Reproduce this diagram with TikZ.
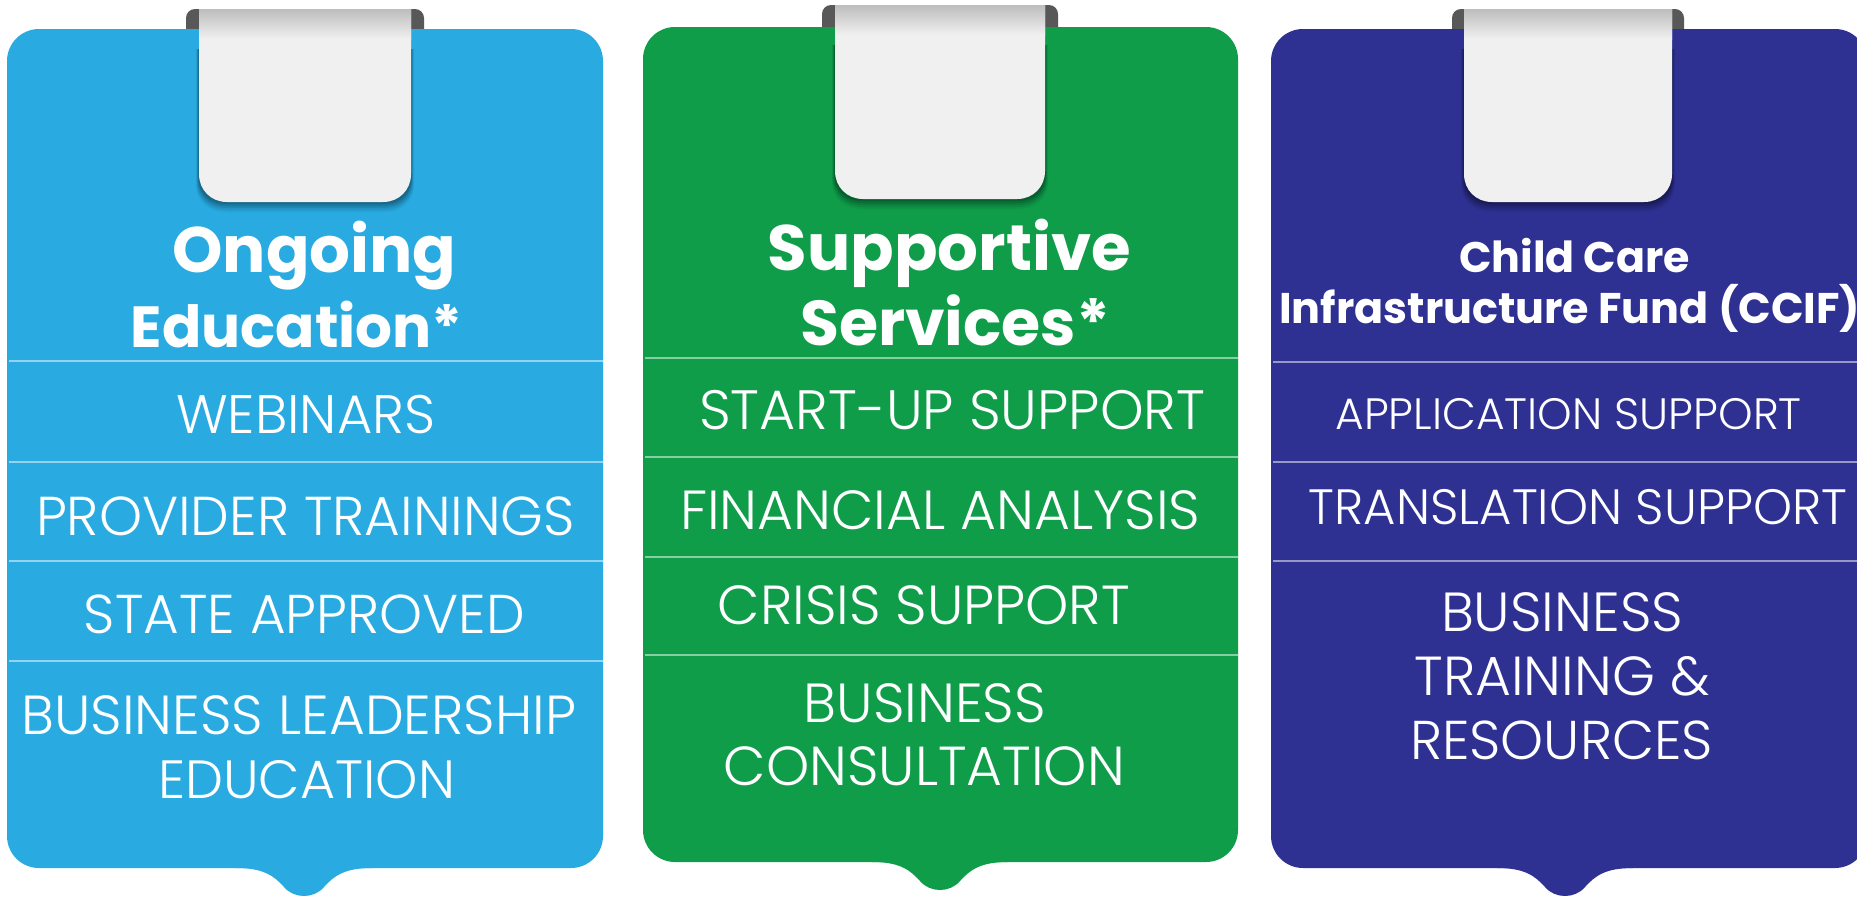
\documentclass[tikz,border=0pt]{standalone}
\usepackage{fontspec}
\setmainfont{Poppins}
\newfontfamily\plight{Poppins Light}
\usepackage{graphicx}
\definecolor{cblue}{HTML}{29AAE1}
\definecolor{cgreen}{HTML}{0F9D4A}
\definecolor{cnavy}{HTML}{2E3192}
\definecolor{tabfill}{HTML}{F0F0F0}
\definecolor{tabtop}{HTML}{BDBDBD}
\definecolor{rollgray}{HTML}{585858}
\tikzset{
  txt/.style={anchor=base, inner sep=0pt, outer sep=0pt, text=white},
  divider/.style={draw=white, draw opacity=0.5, line width=1.6pt},
}
% panel: #1 colour, #2 x1, #3 x2, #4 top, #5 bottom, #6 notch centre
\newcommand\cardpanel[6]{%
  \fill[#1, rounded corners=32pt] (#2,#4) rectangle (#3,#5);
  \fill[#1] (#6-68,#5-2) -- (#6-68,#5) .. controls (#6-40,#5) and (#6-30,#5+8) .. (#6-20,#5+19)
     .. controls (#6-10,#5+31) and (#6+10,#5+31) .. (#6+20,#5+19)
     .. controls (#6+30,#5+8) and (#6+40,#5) .. (#6+68,#5) -- (#6+68,#5-2) -- cycle;
}
% tab: #1 x1, #2 x2 (light part), #3 top, #4 bottom
\newcommand\cardtab[4]{%
  \foreach \s/\o in {10/0.05,8/0.07,6/0.09,4/0.11,2/0.13}{
    \fill[black, opacity=\o] (#1-\s*0.3,#3+40) -- (#1-\s*0.3,#4-28+\s)
      .. controls (#1-\s*0.3,#4-10+\s) and (#1+10,#4+\s) .. (#1+28,#4+\s) -- (#2-28,#4+\s)
      .. controls (#2-10,#4+\s) and (#2+\s*0.3,#4-10+\s) .. (#2+\s*0.3,#4-28+\s) -- (#2+\s*0.3,#3+40) -- cycle;
  }
  \fill[tabfill] (#1,#3) -- (#1,#4-28) .. controls (#1,#4-12) and (#1+12,#4) .. (#1+28,#4)
     -- (#2-28,#4) .. controls (#2-12,#4) and (#2,#4-12) .. (#2,#4-28) -- (#2,#3) -- cycle;
  \shade[top color=tabtop, bottom color=tabfill] (#1,#3) rectangle (#2,#3+30);
}
\begin{document}
\begin{tikzpicture}[x=1pt,y=-1pt]
\useasboundingbox (0,0) rectangle (1857,897);
\clip (0,0) rectangle (1857,897);
\fill[white] (0,0) rectangle (1857,897);

% rolls behind panels
\fill[rollgray, rounded corners=9pt] (186,9) rectangle (424,45);
\fill[rollgray, rounded corners=9pt] (822,5) rectangle (1058,45);
\fill[rollgray, rounded corners=9pt] (1452,9) rectangle (1684,45);

% panels
\cardpanel{cblue}{7}{603}{29}{868}{304}
\cardpanel{cgreen}{643}{1238}{27}{862}{940}
\cardpanel{cnavy}{1271}{1867}{29}{868}{1565}

% tabs
\cardtab{199}{411}{9}{202}
\cardtab{835}{1045}{5}{199}
\cardtab{1464}{1672}{9}{202}

% dividers
\draw[divider] (9,361) -- (603,361);
\draw[divider] (9,462) -- (603,462);
\draw[divider] (9,561) -- (603,561);
\draw[divider] (9,661) -- (603,661);
\draw[divider] (645,358) -- (1238,358);
\draw[divider] (645,457) -- (1238,457);
\draw[divider] (645,557) -- (1238,557);
\draw[divider] (645,655) -- (1238,655);
\draw[divider] (1273,362) -- (1857,362);
\draw[divider] (1273,462) -- (1857,462);
\draw[divider] (1273,561) -- (1857,561);

% panel 1 texts
\node[txt] (h1a) at (314.4,272.4) {\resizebox{284pt}{!}{\bfseries Ongoing}};
\node[txt] (h1b) at (296.7,347) {\resizebox{332pt}{!}{\bfseries Education*}};
\node[txt] (a1) at (305.6,433.5) {\resizebox{259pt}{!}{\plight WEBINARS}};
\node[txt] (a2) at (305.6,535.3) {\resizebox{539pt}{!}{\plight PROVIDER TRAININGS}};
\node[txt] (a3) at (304.4,633.6) {\resizebox{441pt}{!}{\plight STATE APPROVED}};
\node[txt] (a4) at (299,734.3) {\resizebox{555pt}{!}{\plight BUSINESS LEADERSHIP}};
\node[txt] (a5) at (306.7,798.2) {\resizebox{297pt}{!}{\plight EDUCATION}};

% panel 2 texts
\node[txt] (h2a) at (949.2,270) {\resizebox{363pt}{!}{\bfseries Supportive}};
\node[txt] (h2b) at (955.1,345.8) {\resizebox{310pt}{!}{\bfseries Services*}};
\node[txt] (b1) at (952.2,429.9) {\resizebox{506pt}{!}{\plight START-UP SUPPORT}};
\node[txt] (b2) at (940.3,529.4) {\resizebox{520pt}{!}{\plight FINANCIAL ANALYSIS}};
\node[txt] (b3) at (923.8,624.1) {\resizebox{412pt}{!}{\plight CRISIS SUPPORT}};
\node[txt] (b4) at (924.9,722.4) {\resizebox{242pt}{!}{\plight BUSINESS}};
\node[txt] (b5) at (924.4,785.2) {\resizebox{401pt}{!}{\plight CONSULTATION}};

% panel 3 texts
\node[txt] (h3a) at (1574.5,272.4) {\resizebox{231pt}{!}{\bfseries Child Care}};
\node[txt] (h3b) at (1569.8,323.3) {\resizebox{581pt}{!}{\bfseries Infrastructure Fund (CCIF)}};
\node[txt] (c1) at (1568.6,429.9) {\resizebox{466pt}{!}{\plight APPLICATION SUPPORT}};
\node[txt] (c2) at (1578.1,524.6) {\resizebox{538pt}{!}{\plight TRANSLATION SUPPORT}};
\node[txt] (c3) at (1562.1,631.2) {\resizebox{242pt}{!}{\plight BUSINESS}};
\node[txt] (c4) at (1562.1,695.2) {\resizebox{295pt}{!}{\plight TRAINING \&}};
\node[txt] (c5) at (1561.5,759.1) {\resizebox{303pt}{!}{\plight RESOURCES}};
\end{tikzpicture}
\end{document}
